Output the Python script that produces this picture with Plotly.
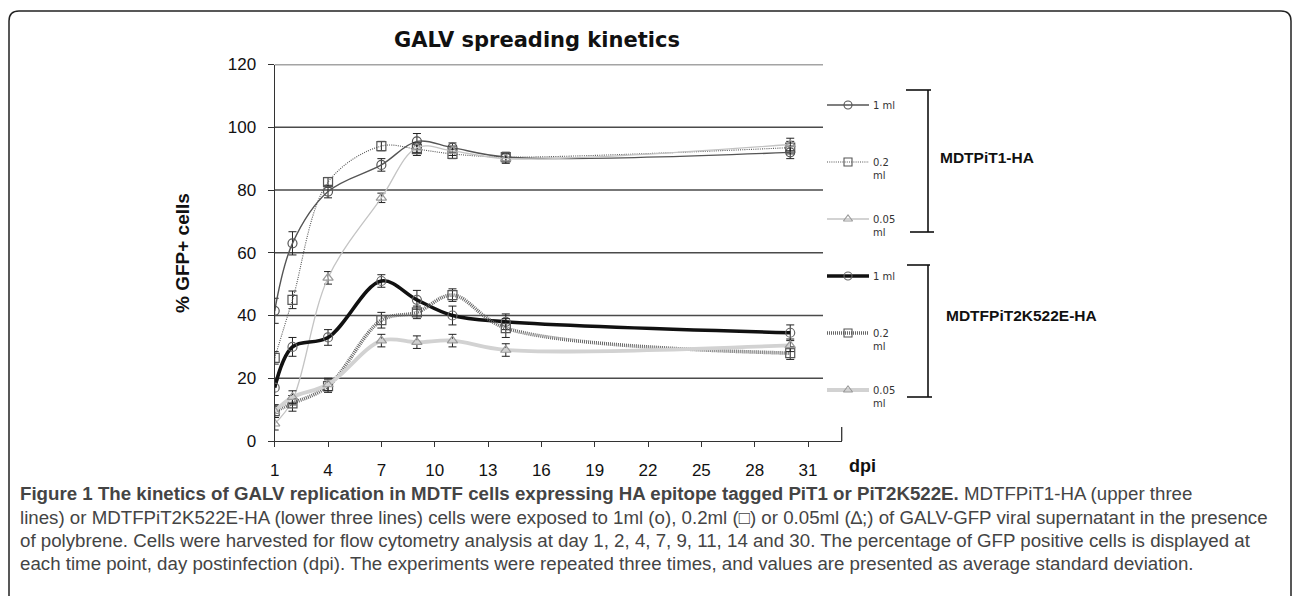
import plotly.graph_objects as go

# ---------------- data ----------------
days = [1, 2, 4, 7, 9, 11, 14, 30]

pit1_1ml = [41.5, 63, 79.5, 88, 95.5, 93.5, 90.5, 92]
pit1_1ml_err = [4, 3.7, 2, 2, 2.5, 1.5, 1.5, 2]
pit1_02ml = [26.5, 45, 82.5, 94, 93, 91.5, 90.5, 93.5]
pit1_02ml_err = [2, 2.8, 1.5, 1.5, 2, 1.5, 1.5, 2]
pit1_005ml = [5.5, 13, 52, 77.5, 93.5, 92.5, 90, 94.5]
pit1_005ml_err = [2, 1.5, 2, 1.5, 1.5, 1.5, 1.5, 2]

k522_1ml = [17, 30, 33, 51, 45, 40, 38, 34.5]
k522_1ml_err = [2.5, 3, 2.5, 2, 3, 3, 2.5, 2.5]
k522_02ml = [9.5, 12, 17.5, 38.5, 41, 46.5, 36, 28]
k522_02ml_err = [2, 2.5, 2, 2.5, 2, 2, 3, 2]
k522_005ml = [9.5, 14, 18, 32, 31.5, 32, 29, 30.5]
k522_005ml_err = [2, 2, 2, 2, 2, 2, 2, 2]

x_ticks = [1, 4, 7, 10, 13, 16, 19, 22, 25, 28, 31]
y_ticks = [0, 20, 40, 60, 80, 100, 120]

legend_labels = ["1 ml", "0.2<br>ml", "0.05<br>ml", "1 ml", "0.2<br>ml", "0.05<br>ml"]
group_labels = ["MDTPiT1-HA", "MDTFPiT2K522E-HA"]

title = "GALV spreading kinetics"
y_title = "% GFP+ cells"
x_title = "dpi"

caption_lines = [
    "<b>Figure 1 The kinetics of GALV replication in MDTF cells expressing HA epitope tagged PiT1 or PiT2K522E.</b> MDTFPiT1-HA (upper three",
    "lines) or MDTFPiT2K522E-HA (lower three lines) cells were exposed to 1ml (o), 0.2ml (\u25a1) or 0.05ml (\u2206;) of GALV-GFP viral supernatant in the presence",
    "of polybrene. Cells were harvested for flow cytometry analysis at day 1, 2, 4, 7, 9, 11, 14 and 30. The percentage of GFP positive cells is displayed at",
    "each time point, day postinfection (dpi). The experiments were repeated three times, and values are presented as average standard deviation.",
]

# ---------------- styles ----------------
W, H = 1293, 596
series = [
    (pit1_1ml, pit1_1ml_err, dict(color="#555555", width=1.4, dash="solid"), "circle-open", "#555555"),
    (pit1_02ml, pit1_02ml_err, dict(color="#555555", width=1.1, dash="1px,1.2px"), "square-open", "#555555"),
    (pit1_005ml, pit1_005ml_err, dict(color="#c4c4c4", width=1.3, dash="solid"), "triangle-up-open", "#9a9a9a"),
    (k522_1ml, k522_1ml_err, dict(color="#111111", width=3.6, dash="solid"), "circle-open", "#666666"),
    (k522_02ml, k522_02ml_err, dict(color="#666666", width=3.6, dash="1px,1px"), "square-open", "#555555"),
    (k522_005ml, k522_005ml_err, dict(color="#d2d2d2", width=3.8, dash="solid"), "triangle-up-open", "#9a9a9a"),
]

fig = go.Figure()

for vals, err, line, sym, mcol in series:
    fig.add_trace(go.Scatter(
        x=days, y=vals, mode="lines+markers",
        line=dict(color=line["color"], width=line["width"], dash=line["dash"], shape="spline", smoothing=1.0),
        marker=dict(symbol=sym, size=9, color=mcol, line=dict(width=1.2, color=mcol)),
        error_y=dict(type="data", array=err, visible=True, color="#222222", thickness=1, width=4),
        showlegend=False, hoverinfo="skip",
    ))

def px(x):
    return x / W

def py(y):
    return 1 - y / H

x0_px, x1_px = 274.7, 841.7
y0_px, y1_px = 441.0, 64.5

# legend samples drawn on a pixel-space auxiliary axis
leg_y = [105, 162, 219, 276, 333, 390]
for (vals, err, line, sym, mcol), ly in zip(series, leg_y):
    fig.add_trace(go.Scatter(
        x=[827, 848, 869], y=[ly, ly, ly], xaxis="x2", yaxis="y2",
        mode="lines", line=dict(color=line["color"], width=line["width"], dash=line["dash"]),
        showlegend=False, hoverinfo="skip",
    ))
    fig.add_trace(go.Scatter(
        x=[848], y=[ly], xaxis="x2", yaxis="y2", mode="markers",
        marker=dict(symbol=sym, size=8, color=mcol, line=dict(width=1.1, color=mcol)),
        showlegend=False, hoverinfo="skip",
    ))

shapes = []
annotations = []

for ly, lab in zip(leg_y, legend_labels):
    annotations.append(dict(
        x=px(871), y=py(ly - 7), xref="paper", yref="paper", text=lab, showarrow=False,
        xanchor="left", yanchor="top", align="left",
        font=dict(family="DejaVu Sans, Verdana", size=10, color="#333333"),
    ))

# group brackets
blk = dict(color="#111111", width=1.6)
for (top, bot, t0, t1, b0, b1) in [(90, 232, 906, 931, 910, 934), (265, 397, 907, 930, 907, 932)]:
    shapes.append(dict(type="line", xref="paper", yref="paper", x0=px(928), x1=px(928), y0=py(top), y1=py(bot), line=blk))
    shapes.append(dict(type="line", xref="paper", yref="paper", x0=px(t0), x1=px(t1), y0=py(top), y1=py(top), line=blk))
    shapes.append(dict(type="line", xref="paper", yref="paper", x0=px(b0), x1=px(b1), y0=py(bot), y1=py(bot), line=blk))

for (gx, gy), lab in zip([(938, 157), (944, 315)], group_labels):
    annotations.append(dict(
        x=px(gx), y=py(gy), xref="paper", yref="paper", text="<b>%s</b>" % lab, showarrow=False,
        xanchor="left", yanchor="middle",
        font=dict(family="Liberation Sans, Arial", size=15.5, color="#111111"),
    ))

# gridlines at the tick values
for yv in y_ticks[1:]:
    shapes.append(dict(type="line", xref="paper", yref="y", x0=px(x0_px), x1=px(823), y0=yv, y1=yv,
                       line=dict(color="#4a4a4a", width=1.4), layer="below"))

# small vertical stub at right end of x axis
shapes.append(dict(type="line", xref="paper", yref="paper", x0=px(x1_px), x1=px(x1_px),
                   y0=py(441), y1=py(427), line=dict(color="#333333", width=1.3)))

# rounded frame
r = 10
frame_path = (
    f"M {px(9)} {py(600)} L {px(9)} {py(11 + r)} Q {px(9)} {py(11)} {px(9 + r)} {py(11)} "
    f"L {px(1291 - r)} {py(11)} Q {px(1291)} {py(11)} {px(1291)} {py(11 + r)} L {px(1291)} {py(600)}"
)
shapes.append(dict(type="path", xref="paper", yref="paper", path=frame_path,
                   line=dict(color="#222222", width=1.5)))

annotations.append(dict(x=px(537), y=py(40), xref="paper", yref="paper", text="<b>%s</b>" % title,
                        showarrow=False, xanchor="center", yanchor="middle",
                        font=dict(family="DejaVu Sans, Verdana", size=21, color="#111111")))
annotations.append(dict(x=px(183), y=py(253), xref="paper", yref="paper", text="<b>%s</b>" % y_title,
                        showarrow=False, textangle=-90, xanchor="center", yanchor="middle",
                        font=dict(family="Liberation Sans, Arial", size=19, color="#111111")))
annotations.append(dict(x=px(847), y=py(466), xref="paper", yref="paper", text="<b>%s</b>" % x_title,
                        showarrow=False, xanchor="left", yanchor="middle",
                        font=dict(family="Liberation Sans, Arial", size=18, color="#111111")))

cap_y = [493, 517, 540, 563]
for cy, line_txt in zip(cap_y, caption_lines):
    annotations.append(dict(x=px(18), y=py(cy), xref="paper", yref="paper", text=line_txt,
                            showarrow=False, xanchor="left", yanchor="middle", align="left",
                            font=dict(family="Liberation Sans", size=18.7, color="#444444")))

fig.update_layout(
    template="none",
    width=W, height=H,
    margin=dict(l=0, r=0, t=0, b=0, pad=0, autoexpand=False),
    paper_bgcolor="white", plot_bgcolor="rgba(0,0,0,0)",
    shapes=shapes, annotations=annotations,
    xaxis=dict(domain=[px(x0_px), px(x1_px)], range=[1, 1 + (x1_px - x0_px) / ((808.0 - 274.7) / 30)],
               tickvals=x_ticks, ticks="outside", ticklen=5, tickcolor="#333333", tickwidth=1.2,
               showline=True, linecolor="#333333", linewidth=1.4, showgrid=False, zeroline=False,
               ticklabelstandoff=8, automargin=False,
               tickfont=dict(family="Liberation Sans, Arial", size=17, color="#111111")),
    yaxis=dict(domain=[py(y0_px), py(y1_px)], range=[0, 120],
               tickvals=y_ticks, ticks="outside", ticklen=6, tickcolor="#333333", tickwidth=1.2,
               showline=True, linecolor="#333333", linewidth=1.4, showgrid=False, zeroline=False,
               ticklabelstandoff=8, automargin=False,
               tickfont=dict(family="Liberation Sans, Arial", size=17, color="#111111")),
    xaxis2=dict(domain=[0, 1], range=[0, W], visible=False, anchor="y2", fixedrange=True, automargin=False),
    yaxis2=dict(domain=[0, 1], range=[H, 0], visible=False, anchor="x2", fixedrange=True, automargin=False),
)

fig.write_html("out.html", config={"displayModeBar": False},
               post_script="document.body.style.margin='0';document.body.style.overflow='hidden';")
